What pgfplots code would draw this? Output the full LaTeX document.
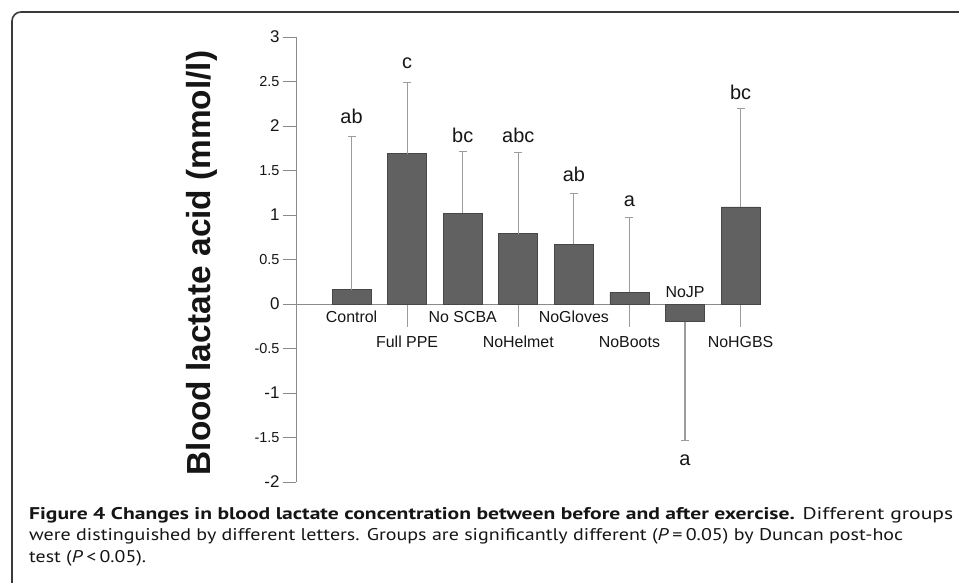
\documentclass[border=0pt]{standalone}
\usepackage{fontspec}
\setmainfont{Liberation Sans}
\newfontfamily\capfont{PT Sans}
\usepackage{graphicx}
\usepackage{pgfplots}
\pgfplotsset{compat=1.18}

\definecolor{barfill}{HTML}{616161}
\definecolor{bardraw}{HTML}{474747}
\definecolor{errc}{HTML}{9C9C9C}
\definecolor{axc}{HTML}{8A8A8A}
\definecolor{framec}{HTML}{3A3A3A}
\definecolor{txt}{HTML}{151515}

\begin{document}
\begin{tikzpicture}[x=1bp,y=1bp]
\useasboundingbox (0,0) rectangle (959,583);
\draw[framec, line width=1.6bp, rounded corners=9bp] (12,-5) -- (12,571) -- (965,571);

\begin{axis}[
  at={(296bp,101bp)}, anchor=south west,
  scale only axis, width=464bp, height=445bp,
  xmin=0, xmax=8.35, ymin=-2, ymax=3,
  axis x line=none, axis y line=left,
  axis line style={-, axc, line width=0.9bp},
  xtick=\empty,
  ytick={-2,-1,0,1,2,3},
  extra y ticks={-1.5,-0.5,0.5,1.5,2.5},
  extra y tick style={yticklabel style={font=\fontsize{14.5}{14.5}\selectfont}},
  tick align=outside, major tick length=13bp,
  tick style={axc, line width=0.9bp},
  yticklabel style={font=\fontsize{17}{17}\selectfont, color=txt},
  /pgf/number format/assume math mode=true,
  clip=false,
]
\draw[axc, line width=0.9bp] (axis cs:0,0) -- (axis cs:8.35,0);
\pgfplotsinvokeforeach{2,4,6,8}{
  \draw[errc, line width=1.1bp] (axis cs:#1,0) -- ([yshift=-23bp]axis cs:#1,0);
}
\addplot[ybar, bar width=39bp, bar shift=0pt, fill=barfill, draw=bardraw, line width=0.6bp,
  error bars/.cd, y dir=plus, y explicit,
  error bar style={errc, line width=1.2bp},
  error mark options={errc, mark size=4bp, line width=1.2bp, rotate=90}]
coordinates {
(1,0.16) +- (0,1.72)
(2,1.69) +- (0,0.80)
(3,1.02) +- (0,0.69)
(4,0.79) +- (0,0.91)
(5,0.67) +- (0,0.57)
(6,0.13) +- (0,0.84)
(8,1.09) +- (0,1.11)
};
\addplot[ybar, bar width=39bp, bar shift=0pt, fill=barfill, draw=bardraw, line width=0.6bp,
  error bars/.cd, y dir=minus, y explicit,
  error bar style={errc, line width=1.2bp},
  error mark options={errc, mark size=4bp, line width=1.2bp, rotate=90}]
coordinates {
(7,-0.20) +- (0,1.33)
};
% significance letters
\begin{scope}[every node/.style={anchor=base, inner sep=0pt, font=\fontsize{20}{20}\selectfont, text=txt}]
\node at (axis cs:1,2.03) {ab};
\node at (axis cs:2,2.65) {c};
\node at (axis cs:3,1.81) {bc};
\node at (axis cs:4,1.82) {abc};
\node at (axis cs:5,1.38) {ab};
\node at (axis cs:6,1.10) {a};
\node at (axis cs:7,-1.81) {a};
\node at (axis cs:8,2.30) {bc};
\end{scope}
% category labels
\begin{scope}[every node/.style={anchor=base, inner sep=0pt, font=\fontsize{16}{16}\selectfont, text=txt}]
\node at ([yshift=-19bp]axis cs:1,0) {Control};
\node at ([yshift=-44bp]axis cs:2,0) {Full PPE};
\node at ([yshift=-19bp]axis cs:3,0) {No SCBA};
\node at ([yshift=-44bp]axis cs:4,0) {NoHelmet};
\node at ([yshift=-19bp]axis cs:5,0) {NoGloves};
\node at ([yshift=-44bp]axis cs:6,0) {NoBoots};
\node at ([yshift=6bp]axis cs:7,0) {NoJP};
\node at ([yshift=-44bp]axis cs:8,0) {NoHGBS};
\end{scope}
\end{axis}

\node[rotate=90, inner sep=0pt, text=txt, font=\fontsize{33.5}{33.5}\selectfont\bfseries] at (202,320) {Blood lactate acid (mmol/l)};

\begin{scope}[every node/.style={anchor=base west, inner sep=0pt, text=txt, font=\capfont\fontsize{17}{17}\selectfont}]
\node at (29,63) {\resizebox{924bp}{\height}{\textbf{Figure 4 Changes in blood lactate concentration between before and after exercise.} Different groups}};
\node at (29,42) {\resizebox{874bp}{\height}{were distinguished by different letters. Groups are significantly different (\textit{P}\,=\,0.05) by Duncan post-hoc}};
\node at (29,20) {\resizebox{117bp}{\height}{test (\textit{P}\,<\,0.05).}};
\end{scope}
\end{tikzpicture}
\end{document}
